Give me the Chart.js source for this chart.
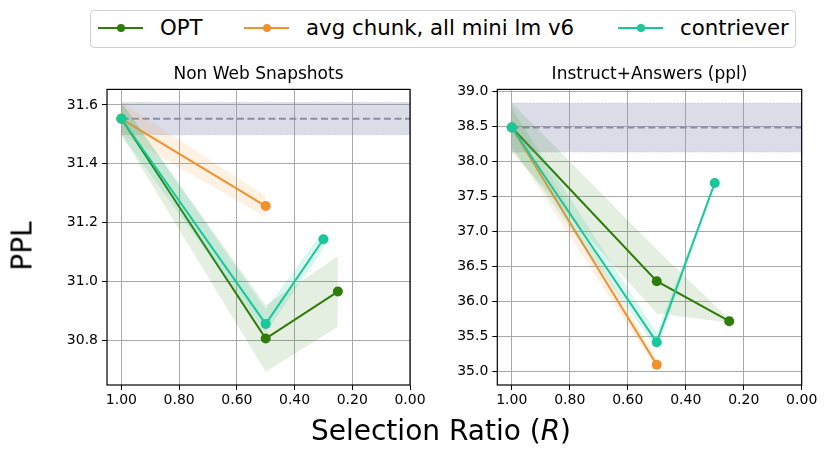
<!DOCTYPE html>
<html>
<head>
<meta charset="utf-8">
<script src="https://cdn.jsdelivr.net/npm/chart.js@4.4.1/dist/chart.umd.min.js"></script>
<style>
  body { margin: 0; background: #fff; font-family: 'DejaVu Sans', sans-serif; }
  #wrap { position: relative; width: 830px; height: 459px; overflow: hidden; }
  canvas { position: absolute; }
  #legend { position: absolute; left: 90px; top: 10px; width: 704px; height: 36px;
            border: 1px solid #d0d0d0; border-radius: 4px; }
  .item { position: absolute; top: 0; height: 36px; }
  .swatch { position: absolute; top: 16px; width: 45px; height: 2px; }
  .dot { position: absolute; top: 13px; left: 19px; width: 8px; height: 8px; border-radius: 50%; }
  .lbl { position: absolute; left: 62px; top: 4px; font-size: 21.3px; line-height: 26px; white-space: nowrap; color: #000; }
  #ylab { position: absolute; left: 22px; top: 246px; font-size: 28px; transform: translate(-50%, -50%) rotate(-90deg); white-space: nowrap; }
  #xlab { position: absolute; left: 441px; top: 414px; font-size: 28px; transform: translateX(-50%); white-space: nowrap; }
</style>
</head>
<body>
<div id="wrap">
  <div id="legend"></div>
  <canvas id="left" width="440" height="370" style="left:0;top:50px;width:440px;height:370px"></canvas>
  <canvas id="right" width="410" height="370" style="left:420px;top:50px;width:410px;height:370px"></canvas>
  <div id="ylab">PPL</div>
  <div id="xlab">Selection Ratio (<i>R</i>)</div>
</div>
<script>
// Series names and colours
const seriesNames = ['OPT', 'avg chunk, all mini lm v6', 'contriever'];
const seriesColors = ['#2d7d08', '#f0912b', '#17c89b'];
const bandColors = ['rgba(45,125,8,0.12)', 'rgba(240,145,43,0.13)', 'rgba(23,200,155,0.16)'];

// Selection ratios used by each series
const optRatio = [1.0, 0.5, 0.25];
const avgRatio = [1.0, 0.5];
const conRatio = [1.0, 0.5, 0.3];
const baseRatio = [1.0, 0.0];

// Non Web Snapshots
const nwBase = [31.553, 31.553];
const nwBaseLo = [31.499, 31.499];
const nwBaseHi = [31.608, 31.608];
const nwOpt = [31.553, 30.805, 30.965];
const nwOptLo = [31.499, 30.692, 30.845];
const nwOptHi = [31.608, 30.918, 31.085];
const nwAvg = [31.553, 31.256];
const nwAvgLo = [31.499, 31.220];
const nwAvgHi = [31.608, 31.290];
const nwCon = [31.553, 30.855, 31.143];
const nwConLo = [31.499, 30.825, 31.110];
const nwConHi = [31.608, 30.905, 31.172];

// Instruct+Answers (ppl)
const iaBase = [38.48, 38.48];
const iaBaseLo = [38.13, 38.13];
const iaBaseHi = [38.83, 38.83];
const iaOpt = [38.48, 36.29, 35.72];
const iaOptLo = [38.13, 35.83, 35.70];
const iaOptHi = [38.83, 36.74, 35.75];
const iaAvg = [38.48, 35.10];
const iaAvgLo = [38.20, 35.03];
const iaAvgHi = [38.76, 35.17];
const iaCon = [38.48, 35.42, 37.69];
const iaConLo = [38.20, 35.33, 37.65];
const iaConHi = [38.76, 35.55, 37.72];

// Axis tick values
const xTickStep = 0.2;
const nwTickStep = 0.2;
const iaTickStep = 0.5;

const pts = (xs, ys) => xs.map((x, i) => ({ x: x, y: ys[i] }));

function band(xs, lo, hi, color, edge) {
  return [
    { data: pts(xs, lo), borderWidth: edge ? 1 : 0, borderColor: edge || color, borderDash: [1, 2],
      pointRadius: 0, fill: false, backgroundColor: color },
    { data: pts(xs, hi), borderWidth: edge ? 1 : 0, borderColor: edge || color, borderDash: [1, 2],
      pointRadius: 0, fill: '-1', backgroundColor: color }
  ];
}

function line(xs, ys, color) {
  return { data: pts(xs, ys), borderColor: color, borderWidth: 2, pointRadius: 5,
           pointBackgroundColor: color, pointBorderWidth: 0, fill: false, tension: 0 };
}

function buildDatasets(base, baseLo, baseHi, series) {
  const ds = [];
  ds.push(...band(baseRatio, baseLo, baseHi, 'rgba(140,150,182,0.32)', 'rgba(140,150,182,0.45)'));
  ds.push({ data: pts(baseRatio, base), borderColor: '#8a8fa9', borderWidth: 2, borderDash: [7, 3.5],
            pointRadius: 0, fill: false });
  series.forEach((s, k) => {
    ds.push(...band(s.x, s.lo, s.hi, bandColors[k]));
    ds.push(line(s.x, s.y, seriesColors[k]));
  });
  // later datasets on top
  ds.forEach((d, i) => { d.order = -i; });
  return ds;
}

const framePlugin = {
  id: 'frame',
  afterDraw(chart) {
    const { ctx, chartArea: a } = chart;
    ctx.save();
    ctx.strokeStyle = '#000';
    ctx.lineWidth = 1.2;
    ctx.strokeRect(a.left, a.top, a.right - a.left, a.bottom - a.top);
    ctx.restore();
  }
};

Chart.defaults.font.family = "'DejaVu Sans', sans-serif";
Chart.defaults.color = '#000';

function makeChart(id, title, yMin, yMax, yStep, yAxisWidth, padRight, datasets) {
  const ctx = document.getElementById(id).getContext('2d');
  return new Chart(ctx, {
    type: 'line',
    data: { datasets: datasets },
    plugins: [framePlugin],
    options: {
      responsive: false,
      animation: false,
      events: [],
      layout: { padding: { top: 0, right: padRight, bottom: 0, left: 0 } },
      plugins: {
        legend: { display: false },
        tooltip: { enabled: false },
        title: {
          display: true, text: title, fullSize: false, color: '#000',
          font: { size: 17, weight: 'normal' },
          padding: { top: 14, bottom: 5 }
        }
      },
      scales: {
        x: {
          type: 'linear', min: 0, max: 1.05, reverse: true,
          border: { display: false },
          grid: { color: '#a9a9a9', lineWidth: 1, tickColor: '#000', tickLength: 5, tickWidth: 1 },
          ticks: { stepSize: xTickStep, includeBounds: false, padding: 2, maxRotation: 0,
                   font: { size: 14 }, callback: v => v.toFixed(2) },
          afterFit: s => { s.height = 35; }
        },
        y: {
          type: 'linear', min: yMin, max: yMax,
          border: { display: false },
          grid: { color: '#a9a9a9', lineWidth: 1, tickColor: '#000', tickLength: 5, tickWidth: 1 },
          ticks: { stepSize: yStep, includeBounds: false, padding: 4,
                   font: { size: 14 }, callback: v => v.toFixed(1) },
          afterFit: s => { s.width = yAxisWidth; }
        }
      }
    }
  });
}

makeChart('left', 'Non Web Snapshots', 30.647, 31.653, nwTickStep, 107, 30,
  buildDatasets(nwBase, nwBaseLo, nwBaseHi, [
    { x: optRatio, y: nwOpt, lo: nwOptLo, hi: nwOptHi },
    { x: avgRatio, y: nwAvg, lo: nwAvgLo, hi: nwAvgHi },
    { x: conRatio, y: nwCon, lo: nwConLo, hi: nwConHi }
  ]));

makeChart('right', 'Instruct+Answers (ppl)', 34.81, 39.024, iaTickStep, 77.3, 28.3,
  buildDatasets(iaBase, iaBaseLo, iaBaseHi, [
    { x: optRatio, y: iaOpt, lo: iaOptLo, hi: iaOptHi },
    { x: avgRatio, y: iaAvg, lo: iaAvgLo, hi: iaAvgHi },
    { x: conRatio, y: iaCon, lo: iaConLo, hi: iaConHi }
  ]));

// Legend
const legendX = [7, 153, 527];
const legend = document.getElementById('legend');
seriesNames.forEach((name, k) => {
  const it = document.createElement('div');
  it.className = 'item';
  it.style.left = legendX[k] + 'px';
  it.innerHTML = '<div class="swatch" style="background:' + seriesColors[k] + '"></div>' +
    '<div class="dot" style="background:' + seriesColors[k] + '"></div>' +
    '<div class="lbl">' + name + '</div>';
  legend.appendChild(it);
});
</script>
</body>
</html>
